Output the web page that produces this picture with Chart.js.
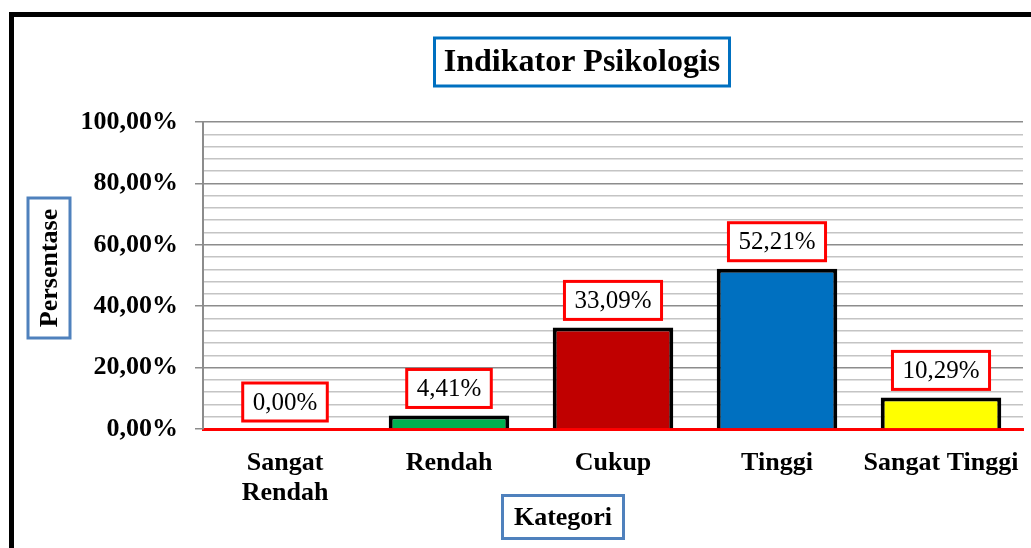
<!DOCTYPE html>
<html>
<head>
<meta charset="utf-8">
<script src="https://cdn.jsdelivr.net/npm/chart.js@4/dist/chart.umd.min.js"></script>
<style>
  body { margin: 0; background: #fff; }
  canvas { display: block; }
</style>
</head>
<body>
<canvas id="chart" width="1031" height="548"></canvas>
<script>
// data
const categories = [['Sangat', 'Rendah'], 'Rendah', 'Cukup', 'Tinggi', 'Sangat Tinggi'];
const values = [0.00, 4.41, 33.09, 52.21, 10.29];
const yTickLabels = ['0,00%', '20,00%', '40,00%', '60,00%', '80,00%', '100,00%'];

const barColors = ['#7F7F7F', '#00B050', '#C00000', '#0070C0', '#FFFF00'];
const serif = '"Liberation Serif", "Times New Roman", serif';

function pct(v) {
    return v.toFixed(2).replace('.', ',') + '%';
}

function boxedText(ctx, text, cx, cy, w, h, font, stroke, rotate) {
    ctx.save();
    ctx.translate(cx, cy);
    if (rotate) ctx.rotate(-Math.PI / 2);
    ctx.fillStyle = '#fff';
    ctx.fillRect(-w / 2, -h / 2, w, h);
    ctx.strokeStyle = stroke;
    ctx.lineWidth = 3;
    ctx.strokeRect(-w / 2, -h / 2, w, h);
    ctx.fillStyle = '#000';
    ctx.font = font;
    ctx.textAlign = 'center';
    ctx.textBaseline = 'middle';
    ctx.fillText(text, 0, 1);
    ctx.restore();
}

// frame, titles and the red-boxed value labels
const decorations = {
    id: 'decorations',
    afterDraw(chart) {
        const ctx = chart.ctx;
        // outer black frame (top and left edges visible)
        ctx.save();
        ctx.fillStyle = '#000';
        ctx.fillRect(9, 12, 1031, 5);
        ctx.fillRect(9, 12, 5, 548);
        ctx.restore();

        boxedText(ctx, 'Indikator Psikologis', 582, 62, 295, 48, 'bold 32px ' + serif, '#0070C0');
        boxedText(ctx, 'Persentase', 49, 268, 140, 42, 'bold 26px ' + serif, '#4F81BD', true);
        boxedText(ctx, 'Kategori', 563, 517, 121, 43, 'bold 26px ' + serif, '#4F81BD');

        const meta = chart.getDatasetMeta(0);
        ctx.save();
        ctx.font = '25px ' + serif;
        meta.data.forEach((bar, i) => {
            const text = pct(values[i]);
            const w = ctx.measureText(text).width + 20;
            const h = 38;
            const cy = bar.y - 8 - h / 2;
            boxedText(ctx, text, bar.x, cy, w, h, '25px ' + serif, '#FF0000');
        });
        ctx.restore();
    }
};

new Chart(document.getElementById('chart'), {
    type: 'bar',
    data: {
        labels: categories,
        datasets: [{
            data: values,
            backgroundColor: barColors,
            borderColor: '#000',
            borderWidth: 4,
            barPercentage: 0.735,
            categoryPercentage: 1.0
        }]
    },
    options: {
        responsive: false,
        animation: false,
        devicePixelRatio: 1,
        layout: { padding: { top: 122, right: 8, bottom: 0, left: 0 } },
        plugins: {
            legend: { display: false },
            tooltip: { enabled: false }
        },
        scales: {
            x: {
                z: 1,
                grid: { display: false, drawTicks: false },
                border: { display: true, color: '#FF0000', width: 3 },
                ticks: {
                    color: '#000',
                    font: { family: serif, size: 26, weight: 'bold', lineHeight: 1.15 },
                    padding: 19,
                    maxRotation: 0,
                    autoSkip: false
                },
                afterFit(scale) {
                    scale.height = 119;
                    scale.paddingLeft = 0;
                    scale.paddingRight = 0;
                }
            },
            y: {
                min: 0,
                max: 100,
                grid: {
                    color: c => (c.tick && c.tick.value % 20 === 0) ? '#8C8C8C' : '#C4C4C4',
                    lineWidth: 1.5,
                    tickLength: 8,
                    tickColor: c => (c.tick && c.tick.value % 20 === 0) ? '#8C8C8C' : 'rgba(0,0,0,0)'
                },
                border: { color: '#8C8C8C', width: 2 },
                ticks: {
                    stepSize: 4,
                    autoSkip: false,
                    color: '#000',
                    font: { family: serif, size: 26, weight: 'bold' },
                    padding: 17,
                    callback: v => (v % 20 === 0) ? yTickLabels[v / 20] : ''
                },
                afterFit(scale) {
                    scale.width = 203;
                    scale.paddingTop = 0;
                    scale.paddingBottom = 0;
                }
            }
        }
    },
    plugins: [decorations]
});
</script>
</body>
</html>
